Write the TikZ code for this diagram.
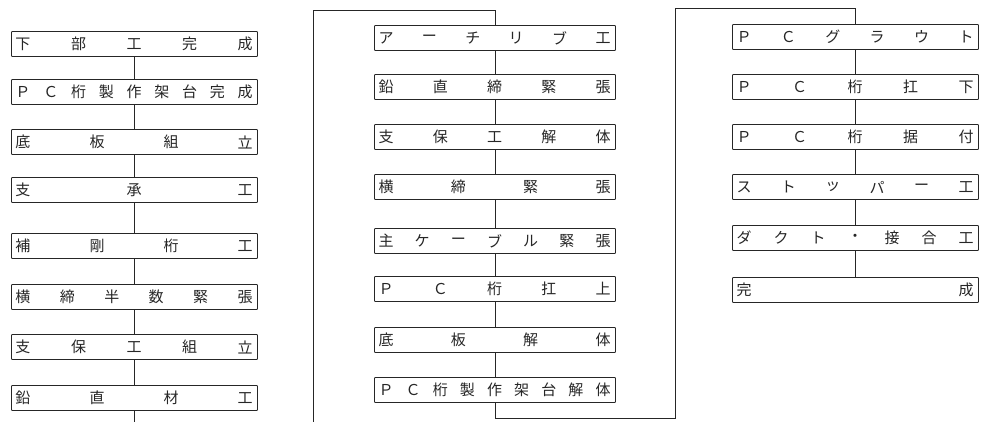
\documentclass[tikz,border=0pt]{standalone}
\usepackage{fontspec}
\newfontfamily\jp{Noto Sans CJK JP}
\tikzset{
  box/.style={draw=black!85, line width=0.9pt, minimum height=25pt, inner sep=0pt, anchor=west, rounded corners=0.8pt},
  ch/.style={font=\jp\fontsize{15}{15}\selectfont, inner sep=0pt, text=black!85},
  link/.style={draw=black!85, line width=0.9pt}
}
% name, xleft, ycenter, width, n, chars
\newcommand\jrow[6]{%
  \node[box, minimum width=#4pt] (#1) at (#2,#3) {};
  \foreach \c [count=\i] in {#6} {
    \node[ch] (#1-\i) at ({#2+12+(\i-1)*(#4-24)/(#5-1)},#3) {\c};
  }
}
\begin{document}
\begin{tikzpicture}[x=1pt,y=-1pt]
\useasboundingbox[fill=white] (0,0) rectangle (981,422);
% column 1
\jrow{a1}{11}{44}{246}{5}{下,部,工,完,成}
\jrow{a2}{11}{92}{246}{9}{Ｐ,Ｃ,桁,製,作,架,台,完,成}
\jrow{a3}{11}{142}{246}{4}{底,板,組,立}
\jrow{a4}{11}{190}{246}{3}{支,承,工}
\jrow{a5}{11}{246}{246}{4}{補,剛,桁,工}
\jrow{a6}{11}{297}{246}{6}{横,締,半,数,緊,張}
\jrow{a7}{11}{347}{246}{5}{支,保,工,組,立}
\jrow{a8}{11}{398}{246}{4}{鉛,直,材,工}
% column 2
\jrow{b1}{374}{38}{241}{6}{ア,ー,チ,リ,ブ,工}
\jrow{b2}{374}{87}{241}{5}{鉛,直,締,緊,張}
\jrow{b3}{374}{137}{241}{5}{支,保,工,解,体}
\jrow{b4}{374}{187}{241}{4}{横,締,緊,張}
\jrow{b5}{374}{241}{241}{7}{主,ケ,ー,ブ,ル,緊,張}
\jrow{b6}{374}{289}{241}{5}{Ｐ,Ｃ,桁,扛,上}
\jrow{b7}{374}{340}{241}{4}{底,板,解,体}
\jrow{b8}{374}{390}{241}{9}{Ｐ,Ｃ,桁,製,作,架,台,解,体}
% column 3
\jrow{c1}{732}{37}{246}{6}{Ｐ,Ｃ,グ,ラ,ウ,ト}
\jrow{c2}{732}{87}{246}{5}{Ｐ,Ｃ,桁,扛,下}
\jrow{c3}{732}{137}{246}{5}{Ｐ,Ｃ,桁,据,付}
\jrow{c4}{732}{187}{246}{6}{ス,ト,ッ,パ,ー,工}
\jrow{c5}{732}{238}{246}{7}{ダ,ク,ト,・,接,合,工}
\jrow{c6}{732}{290}{246}{2}{完,成}
% connectors column 1
\foreach \p/\q in {a1/a2,a2/a3,a3/a4,a4/a5,a5/a6,a6/a7,a7/a8}
  \draw[link] (\p.south) -- (\q.north);
\coordinate (a-end) at (a8.south |- 0,422);
\draw[link] (a8.south) -- (a-end);
% column 2
\coordinate (b-start) at (313,422);
\coordinate (b-top) at (313,10);
\draw[link] (b-start) -- (b-top) -| (b1.north);
\foreach \p/\q in {b1/b2,b2/b3,b3/b4,b4/b5,b5/b6,b6/b7,b7/b8}
  \draw[link] (\p.south) -- (\q.north);
% link column 2 -> column 3
\coordinate (c-bot) at (675,418);
\coordinate (c-top) at (675,8);
\draw[link] (b8.south) |- (c-bot) -- (c-top) -| (c1.north);
\foreach \p/\q in {c1/c2,c2/c3,c3/c4,c4/c5,c5/c6}
  \draw[link] (\p.south) -- (\q.north);
\end{tikzpicture}
\end{document}
